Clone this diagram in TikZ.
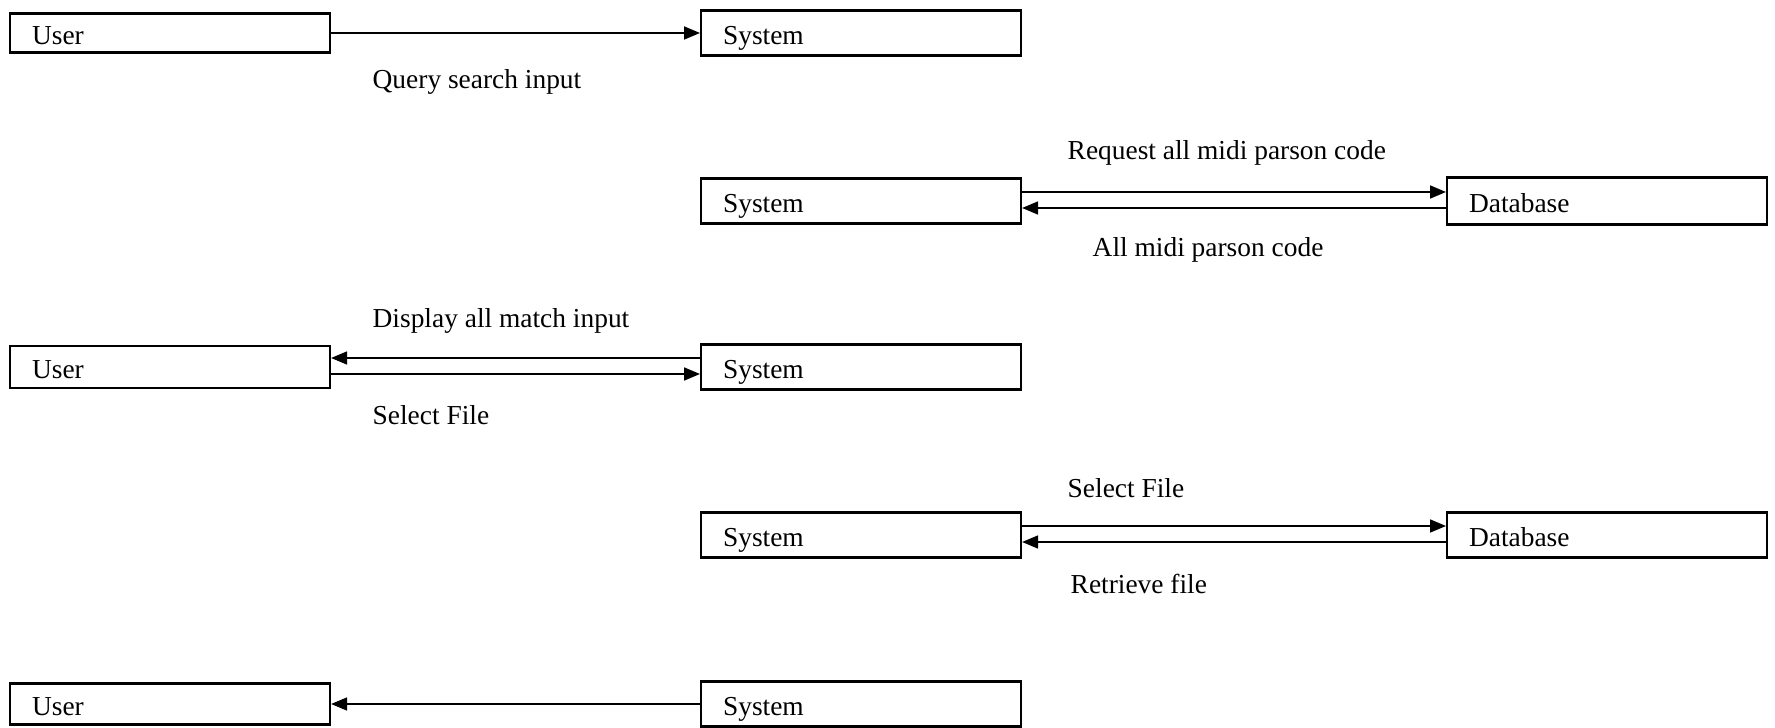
\documentclass[tikz,border=0pt]{standalone}
\usepackage{fontspec}
\setmainfont{Liberation Serif}
\usetikzlibrary{arrows.meta, positioning}
\tikzset{
    entity/.style={rectangle, draw, line width=0.6pt, anchor=west, text width=2.76cm, align=left, inner xsep=0.22cm, inner ysep=0pt, text height=0.23cm, text depth=0pt},
    user/.style={entity, minimum height=0.39cm},
    sys/.style={entity, minimum height=0.45cm},
    msg/.style={anchor=west, inner sep=0pt},
    arrow/.style={line width=0.5pt, ->, >={Triangle[length=0.16cm, width=0.13cm]}}
}

\begin{document}
\begin{tikzpicture}[font=\fontsize{7.8}{9}\selectfont]
        \useasboundingbox (0,0) rectangle (17.75,-7.28);

        % Query
        \node (user1) [user] at (0.09, -0.33) {User};
        \node (sys1) [sys] at (7.00, -0.33) {System};
        \node (q_label) [msg] at (3.72, -0.82) {Query search input};

        \draw[arrow] (user1.east) -- (user1.east -| sys1.west);

        % Request codes
        \node (sys2) [sys] at (7.00, -2.01) {System};
        \node (db1) [sys, minimum height=0.47cm] at (14.46, -2.01) {Database};
        \node (req_label) [msg] at (10.67, -1.53) {Request all midi parson code};
        \node (all_label) [msg] at (10.92, -2.50) {All midi parson code};

        \draw[arrow] ([yshift=0.09cm]sys2.east) -- ([yshift=0.09cm]sys2.east -| db1.west);
        \draw[arrow] ([yshift=-0.07cm]db1.west) -- ([yshift=-0.07cm]db1.west -| sys2.east);

        % Display and select
        \node (user2) [user, minimum height=0.42cm] at (0.09, -3.67) {User};
        \node (sys3) [sys] at (7.00, -3.67) {System};
        \node (disp_label) [msg] at (3.72, -3.21) {Display all match input};
        \node (sel_label) [msg] at (3.72, -4.15) {Select File};

        \draw[arrow] ([yshift=0.09cm]sys3.west) -- ([yshift=0.09cm]sys3.west -| user2.east);
        \draw[arrow] ([yshift=-0.07cm]user2.east) -- ([yshift=-0.07cm]user2.east -| sys3.west);

        % Retrieve file
        \node (sys4) [sys] at (7.00, -5.35) {System};
        \node (db2) [sys] at (14.46, -5.35) {Database};
        \node (sel2_label) [msg] at (10.67, -4.88) {Select File};
        \node (ret_label) [msg] at (10.70, -5.84) {Retrieve file};

        \draw[arrow] ([yshift=0.09cm]sys4.east) -- ([yshift=0.09cm]sys4.east -| db2.west);
        \draw[arrow] ([yshift=-0.07cm]db2.west) -- ([yshift=-0.07cm]db2.west -| sys4.east);

        % Return to user
        \node (user3) [user, minimum height=0.41cm] at (0.09, -7.04) {User};
        \node (sys5) [sys] at (7.00, -7.04) {System};

        \draw[arrow] (sys5.west) -- (sys5.west -| user3.east);
    \end{tikzpicture}
\end{document}
